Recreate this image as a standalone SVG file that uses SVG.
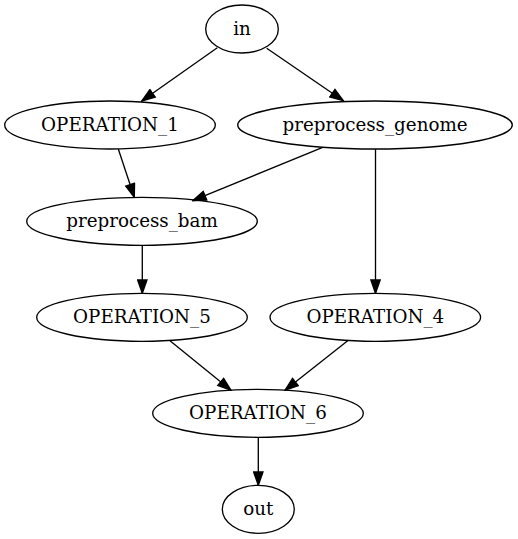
<svg xmlns="http://www.w3.org/2000/svg" width="518" height="539" viewBox="0 0 518 539">
  <style>
    .node ellipse { fill: none; stroke: #000; stroke-width: 1.33; }
    .node text { font-family: "DejaVu Serif", "Liberation Serif", serif; font-size: 18.3px; text-anchor: middle; fill: #000; }
    .edges line { stroke: #000; stroke-width: 1.33; fill: none; marker-end: url(#arrow); }
  </style>
  <defs>
    <marker id="arrow" markerUnits="userSpaceOnUse" viewBox="-1 -1 15.3 11.33" markerWidth="15.3" markerHeight="11.33" refX="13.3" refY="4.67" orient="auto">
      <path d="M0,0 L13.3,4.67 L0,9.33 Z" fill="#000" stroke="#000" stroke-width="1.33"/>
    </marker>
  </defs>
  <rect width="518" height="539" fill="#fff"/>

  <g class="edges">
    <line x1="217.3" y1="47.7" x2="141.7" y2="101"/>
    <line x1="266.7" y1="48.3" x2="343.3" y2="100.7"/>
    <line x1="118.3" y1="149" x2="134.3" y2="197.3"/>
    <line x1="322.7" y1="147.3" x2="192.7" y2="200.7"/>
    <line x1="375.5" y1="149" x2="375.5" y2="293.3"/>
    <line x1="142.3" y1="245.3" x2="142.3" y2="293.3"/>
    <line x1="170" y1="340.7" x2="231" y2="390.3"/>
    <line x1="347.7" y1="340.7" x2="285" y2="390.3"/>
    <line x1="258.3" y1="437.3" x2="258.3" y2="485.3"/>
  </g>

  <g id="in" class="node">
    <ellipse cx="242" cy="29" rx="36.3" ry="24"/>
    <text x="242" y="34.5">in</text>
  </g>
  <g id="OPERATION_1" class="node">
    <ellipse cx="110" cy="125" rx="105.3" ry="24"/>
    <text x="110" y="130.5">OPERATION_1</text>
  </g>
  <g id="preprocess_genome" class="node">
    <ellipse cx="375" cy="125" rx="137.3" ry="24"/>
    <text x="375" y="130.5">preprocess_genome</text>
  </g>
  <g id="preprocess_bam" class="node">
    <ellipse cx="142" cy="221.3" rx="115.3" ry="24"/>
    <text x="142" y="226.8">preprocess_bam</text>
  </g>
  <g id="OPERATION_5" class="node">
    <ellipse cx="142" cy="317.3" rx="105.3" ry="24"/>
    <text x="142" y="322.8">OPERATION_5</text>
  </g>
  <g id="OPERATION_4" class="node">
    <ellipse cx="375.3" cy="317.3" rx="105.3" ry="24"/>
    <text x="375.3" y="322.8">OPERATION_4</text>
  </g>
  <g id="OPERATION_6" class="node">
    <ellipse cx="258" cy="413.3" rx="105.3" ry="24"/>
    <text x="258" y="418.8">OPERATION_6</text>
  </g>
  <g id="out" class="node">
    <ellipse cx="258.3" cy="509.3" rx="36" ry="24"/>
    <text x="258.3" y="514.8">out</text>
  </g>
</svg>
